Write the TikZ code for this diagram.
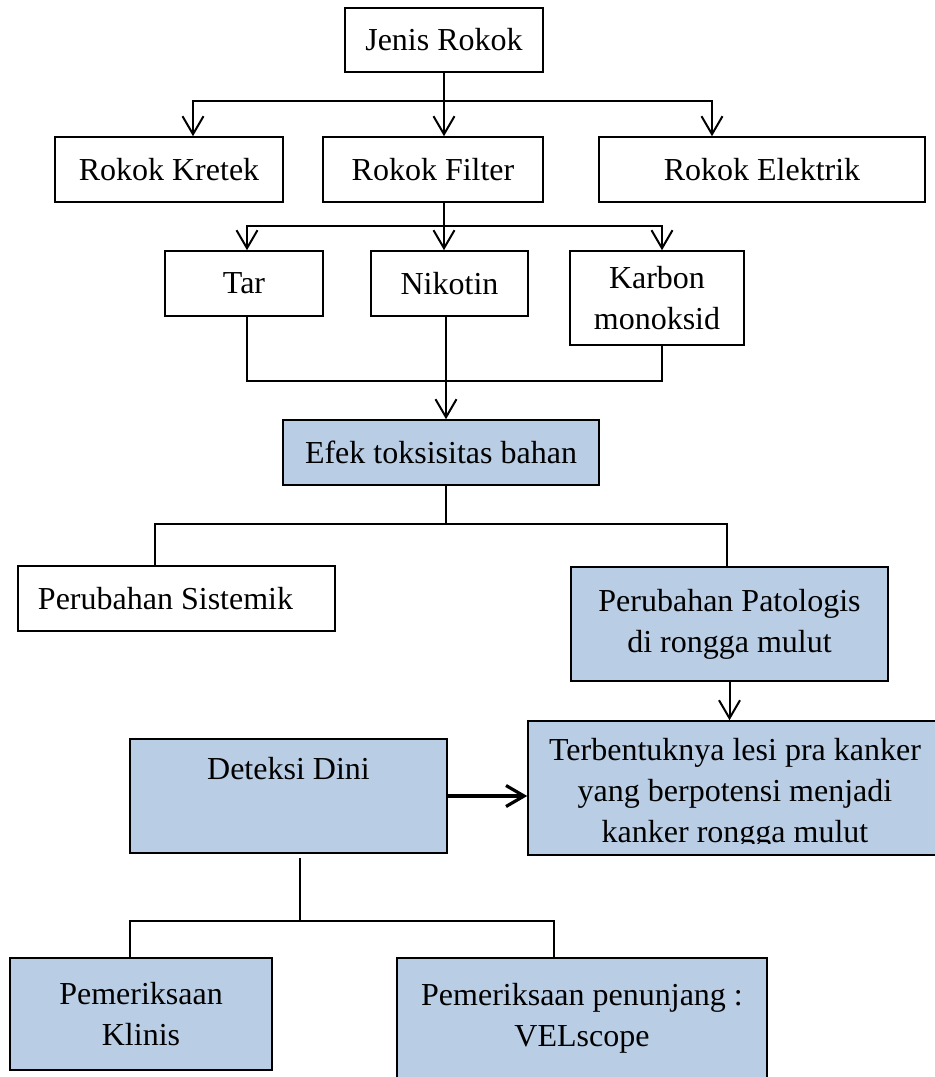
\documentclass[tikz,border=0pt]{standalone}
\usepackage{fontspec}
\setmainfont{Liberation Serif}
\usetikzlibrary{positioning,arrows.meta}
\definecolor{biru}{RGB}{185,205,229}
\tikzstyle{kotak} = [rectangle, draw=black, line width=0.8pt, inner sep=0pt, align=center, font=\fontsize{16pt}{20.5pt}\selectfont]
\tikzstyle{kotakbiru} = [kotak, fill=biru]
\tikzstyle{teks} = [align=center, inner sep=0pt, font=\fontsize{16pt}{20.5pt}\selectfont]
\tikzstyle{garis} = [line width=1pt]
\tikzstyle{panah} = [line width=1pt,->]
\tikzstyle{panahtebal} = [line width=1.6pt,->]

\begin{document}
\begin{tikzpicture}[node distance=57pt, >={Straight Barb[length=9pt,width=10.5pt]}]
			\useasboundingbox (0,0) rectangle (467.5pt,-538.5pt);

			\node (jenis) [kotak, minimum width=99pt, minimum height=32pt] at (222pt,-20pt) {Jenis Rokok};
			\node (filter) [kotak, minimum width=110pt, minimum height=32.5pt, below of=jenis, xshift=-5.5pt, yshift=-7.75pt] {Rokok Filter};
			\node (kretek) [kotak, minimum width=114pt, minimum height=32.5pt, left of=filter, xshift=-75pt] {Rokok Kretek};
			\node (elektrik) [kotak, minimum width=163pt, minimum height=32.5pt, right of=filter, xshift=107.5pt] {Rokok Elektrik};
			\node (nikotin) [kotak, minimum width=78.5pt, minimum height=32.5pt, below of=filter, xshift=8.25pt] {Nikotin};
			\node (tar) [kotak, minimum width=79pt, minimum height=32.5pt, left of=nikotin, xshift=-45.75pt] {Tar};
			\node (karbon) [kotak, minimum width=87pt, minimum height=47pt, right of=nikotin, xshift=46.75pt, yshift=-7.25pt] {Karbon\\monoksid};
			\node (efek) [kotakbiru, minimum width=158pt, minimum height=32.5pt, below of=nikotin, xshift=-4.25pt, yshift=-27.5pt] {Efek toksisitas bahan};
			\node (sistemik) [kotak, text width=138.5pt, inner xsep=10pt, align=flush left, minimum height=32.5pt, below of=efek, xshift=-132.25pt, yshift=-16pt] {Perubahan Sistemik};
			\node (patologis) [kotakbiru, minimum width=158.5pt, minimum height=57pt, below of=efek, xshift=144.25pt, yshift=-28.75pt] {Perubahan Patologis\\di rongga mulut};
			\node (terbentuk) [kotakbiru, minimum width=207pt, minimum height=67pt, below of=patologis, xshift=2.75pt, yshift=-25pt] {};
			\node (deteksi) [kotakbiru, minimum width=158.5pt, text height=20pt, text depth=37pt, left of=terbentuk, xshift=-166.25pt, yshift=-4pt] {Deteksi Dini};
			\node (klinis) [kotakbiru, minimum width=131pt, minimum height=56pt, below of=deteksi, xshift=-73.75pt, yshift=-52pt] {Pemeriksaan\\Klinis};
			\node (velscope) [kotakbiru, minimum width=185pt, text height=44pt, text depth=39.5pt, right of=klinis, xshift=163.5pt, yshift=-13.75pt] {Pemeriksaan penunjang :\\VELscope};

			% teks kotak lesi terpotong di bawah
			\begin{scope}
			\clip (terbentuk.north west) rectangle ([yshift=6pt]terbentuk.south east);
			\node (terbentukteks) [teks] at ([yshift=-3pt]terbentuk.center) {Terbentuknya lesi pra kanker\\yang berpotensi menjadi\\kanker rongga mulut};
			\end{scope}

			\draw[garis] (jenis.south) -- ++(0,-14pt) coordinate (c1);
			\draw[panah] (c1) -| ([xshift=12pt]kretek.north);
			\draw[panah] (c1) -- (c1 |- filter.north);
			\draw[panah] (c1) -| ([xshift=-25pt]elektrik.north);

			\draw[garis] (jenis.south |- filter.south) -- ++(0,-11.5pt) coordinate (c2);
			\draw[panah] (c2) -| ([xshift=1.5pt]tar.north);
			\draw[panah] (c2) -- (c2 |- nikotin.north);
			\draw[panah] (c2) -| ([xshift=2.5pt]karbon.north);

			\coordinate (c3) at ([xshift=-1.75pt,yshift=-32pt]nikotin.south);
			\draw[garis] ([xshift=1.5pt]tar.south) |- (c3) -| ([xshift=2.5pt]karbon.south);
			\draw[garis] (c3 |- nikotin.south) -- (c3);
			\draw[panah] (c3) -- (c3 |- efek.north);

			\draw[garis] ([xshift=2.5pt]efek.south) -- ++(0,-19pt) coordinate (c4);
			\draw[garis] ([xshift=-10.75pt]sistemik.north) |- (c4) -| ([xshift=-1.25pt]patologis.north);

			\draw[panah] (patologis.south) -- (patologis.south |- terbentuk.north);
			\draw[panahtebal] (deteksi.east) -- (deteksi.east -| terbentuk.west);

			\draw[garis] ([xshift=5.75pt,yshift=-2pt]deteksi.south) -- ++(0,-31.5pt) coordinate (c5);
			\draw[garis] ([xshift=-5.5pt]klinis.north) |- (c5) -| ([xshift=-14pt]velscope.north);

\end{tikzpicture}
\end{document}
